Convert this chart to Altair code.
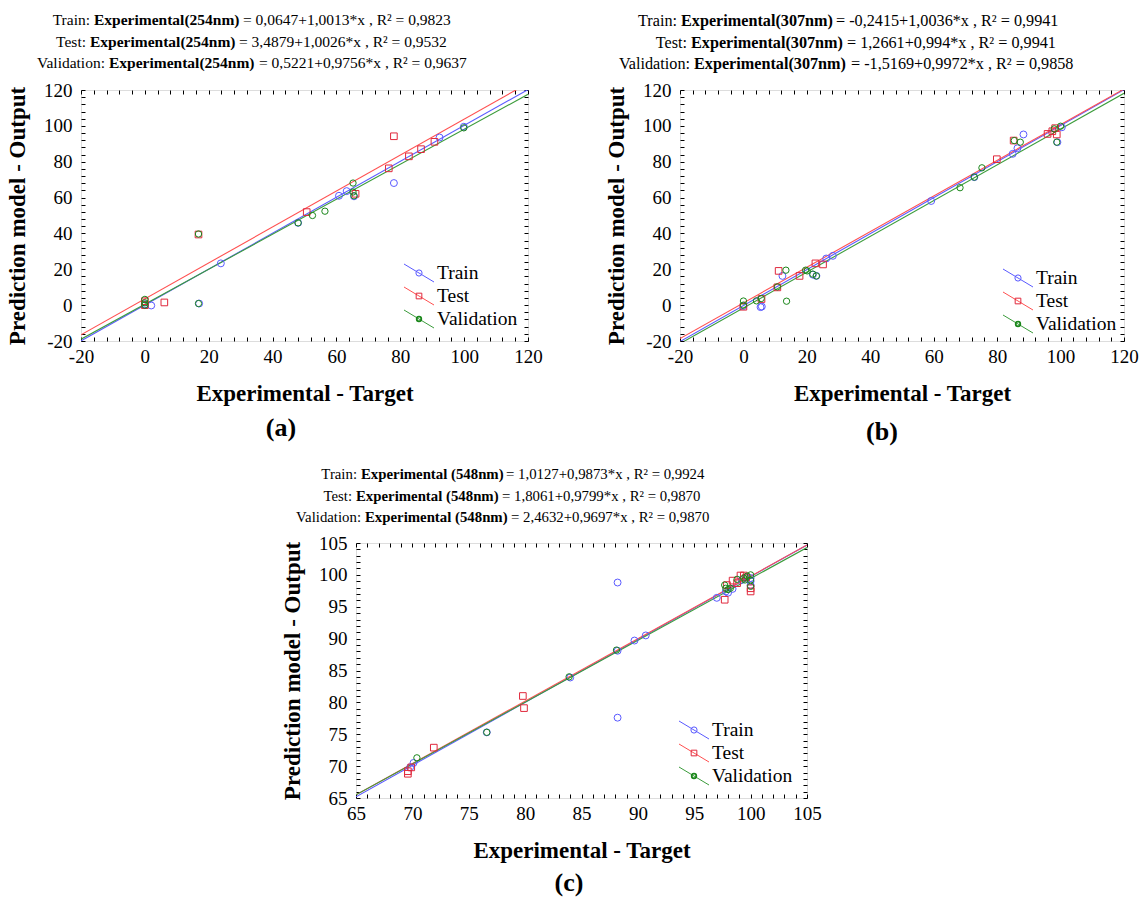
import altair as alt
import pandas as pd

FONT = "Liberation Serif"
SERIES = ["Train", "Test", "Validation"]
LINE_COLORS = ["#5a5aff", "#ff5050", "#3c9c3c"]
MARK_COLORS = ["#5a5aff", "#e0283c", "#1a861a"]
SHAPES = ["circle", "square", "circle"]
SIZES = [48, 40, 26]
STROKES = [1, 1, 1.8]

# ---------------- panel (a) 254 nm ----------------
a_train_x = [0, 0, 2, 17, 23.8, 48, 60.8, 63.2, 65.5, 78.0, 92.3, 99.9]
a_train_y = [0, 0.5, -0.2, 0.9, 23.3, 45.9, 61.0, 63.6, 60.7, 68.1, 93.5, 99.5]
a_test_x = [0, 0, 6.1, 16.8, 50.7, 66.0, 76.4, 78.0, 82.7, 86.5, 90.7]
a_test_y = [0, 2.2, 1.5, 39.4, 51.9, 62.1, 76.3, 94.2, 83.0, 87.0, 91.1]
a_val_x = [0, 0, 0, 16.8, 16.8, 48.0, 52.5, 56.4, 65.2, 65.2, 65.5, 99.9]
a_val_y = [3.2, 1.3, 0, 39.7, 0.9, 45.9, 50.0, 52.4, 68.1, 63.1, 61.0, 98.9]
a_intercepts = [0.0647, 3.4879, 0.5221]
a_slopes = [1.0013, 1.0026, 0.9756]
a_r2 = ["0,9823", "0,9532", "0,9637"]

# ---------------- panel (b) 307 nm ----------------
b_train_x = [0, 5.4, 5.8, 12.3, 21.9, 23.0, 26.1, 28.2, 59.2, 72.8, 84.9, 86.4, 88.3, 99.0, 100.4]
b_train_y = [-0.5, -1.1, -0.8, 16.3, 17.0, 16.3, 26.0, 27.5, 58.1, 71.4, 84.4, 87.5, 95.2, 90.9, 99.2]
b_test_x = [0, 5.7, 11.1, 10.7, 17.7, 22.7, 25.1, 79.9, 85.2, 95.9, 98.3, 98.8, 97.4]
b_test_y = [-0.9, 3.4, 19.1, 9.9, 16.3, 23.3, 22.7, 81.4, 91.8, 95.5, 98.7, 95.2, 97.0]
b_val_x = [0, 0, 4.1, 5.6, 10.7, 13.4, 13.6, 19.6, 20.1, 21.9, 23.0, 68.3, 72.8, 75.2, 85.4, 87.3, 98.8, 100.0, 98.0]
b_val_y = [2.3, 0, 2.4, 3.7, 10.2, 19.5, 2.2, 19.5, 19.1, 17.3, 16.3, 65.5, 71.4, 76.6, 91.8, 90.9, 90.9, 99.8, 98.3]
b_intercepts = [-0.2415, 1.2661, -1.5169]
b_slopes = [1.0036, 0.994, 0.9972]
b_r2 = ["0,9941", "0,9941", "0,9858"]

# ---------------- panel (c) 548 nm ----------------
c_train_x = [88.2, 88.2, 89.7, 90.7, 88.2, 84.0, 76.6, 70.1, 69.8, 97.0, 97.8, 98.4, 100.0, 100.0, 99.2, 99.6, 100.0, 98.0]
c_train_y = [98.8, 77.6, 89.7, 90.5, 88.1, 83.9, 75.3, 70.5, 69.8, 96.4, 97.4, 97.8, 99.5, 98.4, 99.2, 99.6, 99.0, 97.2]
c_test_x = [69.6, 69.6, 69.9, 71.9, 79.8, 79.9, 97.7, 97.9, 98.4, 99.1, 99.4, 100.0, 100.0, 98.8, 99.6]
c_test_y = [68.8, 69.2, 69.8, 72.9, 81.0, 79.1, 96.1, 98.4, 99.1, 99.9, 99.9, 97.4, 97.9, 98.7, 99.6]
c_val_x = [70.4, 76.6, 83.9, 88.1, 97.7, 97.8, 98.0, 98.2, 98.8, 99.4, 99.7, 100.0, 100.0, 100.0, 99.5]
c_val_y = [71.3, 75.3, 84.0, 88.2, 98.4, 97.9, 97.7, 97.9, 99.3, 99.5, 99.8, 100.0, 99.2, 98.2, 99.2]
c_intercepts = [1.0127, 1.8061, 2.4632]
c_slopes = [0.9873, 0.9799, 0.9697]
c_r2 = ["0,9924", "0,9870", "0,9870"]

X_TITLE = "Experimental - Target"
Y_TITLE = "Prediction model - Output"


def one():
    return pd.DataFrame({"k": [0]})


def fmt(v):
    s = f"{v:.4f}".rstrip("0")
    return s.replace(".", ",")


def panel(xs, ys, intercepts, slopes, r2s, name, dom, tick_step, label_step,
          W, H, title_layout, tsize, leg_y0, label, label_pos):
    xmin, xmax = dom
    rows = []
    for s, xv, yv in zip(SERIES, xs, ys):
        for a, b in zip(xv, yv):
            rows.append({"series": s, "x": a, "y": b})
    pts = pd.DataFrame(rows)
    lines = pd.DataFrame([
        {"series": s, "a": a, "b": b, "x": xv}
        for s, a, b in zip(SERIES, intercepts, slopes) for xv in dom
    ])
    ticks = list(range(xmin, xmax + 1, tick_step))
    lexpr = f"datum.value % {label_step} === 0 ? '' + datum.value : ''"
    common = dict(values=ticks, offset=-4, tickSize=4, domain=False, grid=False,
                  tickColor="black", tickWidth=1)
    xs_scale = alt.Scale(domain=[xmin, xmax], nice=False, zero=False)
    ys_scale = alt.Scale(domain=[xmin, xmax], nice=False, zero=False)
    ax_bottom = alt.Axis(orient="bottom", labelExpr=lexpr, labelPadding=6, labelFlush=False,
                         labelOverlap=False, labelFont=FONT, labelFontSize=19, labelColor="black",
                         title=X_TITLE, titleFont=FONT, titleFontSize=23, titleFontWeight="bold",
                         titleColor="black", titlePadding=16, **common)
    ax_left = alt.Axis(orient="left", labelExpr=lexpr, labelPadding=9, labelFlush=False,
                       labelOverlap=False, labelFont=FONT, labelFontSize=19, labelColor="black",
                       title=Y_TITLE, titleFont=FONT, titleFontSize=23, titleFontWeight="bold",
                       titleColor="black", titlePadding=14, **common)
    ax_top = alt.Axis(orient="top", labels=False, title=None, **common)
    ax_right = alt.Axis(orient="right", labels=False, title=None, **common)

    line_layer = alt.Chart(lines).transform_calculate(
        yy="datum.a + datum.b * datum.x"
    ).mark_line(clip=True, strokeWidth=1.1).encode(
        x=alt.X("x:Q", scale=xs_scale, axis=ax_top),
        y=alt.Y("yy:Q", scale=ys_scale, axis=ax_right),
        color=alt.Color("series:N", scale=alt.Scale(domain=SERIES, range=LINE_COLORS), legend=None),
    )
    point_layer = alt.Chart(pts).mark_point(filled=False, opacity=1, clip=True).encode(
        x=alt.X("x:Q", scale=xs_scale, axis=ax_bottom),
        y=alt.Y("y:Q", scale=ys_scale, axis=ax_left),
        stroke=alt.Stroke("series:N", scale=alt.Scale(domain=SERIES, range=MARK_COLORS), legend=None),
        shape=alt.Shape("series:N", scale=alt.Scale(domain=SERIES, range=SHAPES), legend=None),
        size=alt.Size("series:N", scale=alt.Scale(domain=SERIES, range=SIZES), legend=None),
        strokeWidth=alt.StrokeWidth("series:N", scale=alt.Scale(domain=SERIES, range=STROKES), legend=None),
    )
    layers = [line_layer, point_layer]

    # custom legend: diagonal line + marker + label
    for i, s in enumerate(SERIES):
        yc = leg_y0 + i * 23
        layers.append(alt.Chart(one()).mark_rule(color=LINE_COLORS[i], strokeWidth=1).encode(
            x=alt.value(323), x2=alt.value(353), y=alt.value(yc - 9), y2=alt.value(yc + 9)))
        layers.append(alt.Chart(one()).mark_point(
            shape=SHAPES[i], filled=False, color=MARK_COLORS[i], size=SIZES[i] * 0.8,
            strokeWidth=STROKES[i], opacity=1).encode(x=alt.value(338), y=alt.value(yc)))
        layers.append(alt.Chart(one()).mark_text(
            align="left", baseline="middle", font=FONT, fontSize=19.5, color="black").encode(
            x=alt.value(356), y=alt.value(yc), text=alt.value(s)))

    # equation titles (normal + bold + normal segments)
    for i, s in enumerate(SERIES):
        ty, b0, b1 = title_layout[i]
        pre = f"{s}:"
        bold = f"Experimental{name}"
        suf = f"= {fmt(intercepts[i])}+{fmt(slopes[i])}*x , R\u00b2 = {r2s[i]}"
        if intercepts[i] < 0:
            suf = f"= -{fmt(-intercepts[i])}+{fmt(slopes[i])}*x , R\u00b2 = {r2s[i]}"
        layers.append(alt.Chart(one()).mark_text(
            align="right", baseline="middle", font=FONT, fontSize=tsize, color="black").encode(
            x=alt.value(b0 - 4), y=alt.value(ty), text=alt.value(pre)))
        layers.append(alt.Chart(one()).mark_text(
            align="left", baseline="middle", font=FONT, fontSize=tsize, fontWeight="bold",
            color="black").encode(x=alt.value(b0), y=alt.value(ty), text=alt.value(bold)))
        layers.append(alt.Chart(one()).mark_text(
            align="left", baseline="middle", font=FONT, fontSize=tsize, color="black").encode(
            x=alt.value(b1 + 4), y=alt.value(ty), text=alt.value(suf)))

    layers.append(alt.Chart(one()).mark_text(
        align="center", baseline="middle", font=FONT, fontSize=26, fontWeight="bold",
        color="black").encode(x=alt.value(label_pos[0]), y=alt.value(label_pos[1]),
                              text=alt.value(label)))

    return alt.layer(*layers).resolve_axis(x="independent", y="independent").properties(
        width=W, height=H)


pa = panel([a_train_x, a_test_x, a_val_x], [a_train_y, a_test_y, a_val_y],
           a_intercepts, a_slopes, a_r2, "(254nm)", (-20, 120), 4, 20, 447, 251,
           [(-70, 13, 158), (-48, 9, 154), (-27, 28, 174)], 15.5, 183, "(a)", (200, 338))
pb = panel([b_train_x, b_test_x, b_val_x], [b_train_y, b_test_y, b_val_y],
           b_intercepts, b_slopes, b_r2, "(307nm)", (-20, 120), 4, 20, 444, 251,
           [(-69, 1, 152), (-47, 11, 163), (-26, 14, 167)], 16.2, 188, "(b)", (202, 342))
pc = panel([c_train_x, c_test_x, c_val_x], [c_train_y, c_test_y, c_val_y],
           c_intercepts, c_slopes, c_r2, " (548nm)", (65, 105), 1, 5, 451, 255,
           [(-68, 5, 146), (-46, 0, 142), (-25, 9, 151)], 14.8, 187, "(c)", (213, 340))

spacer = alt.Chart(one()).mark_point(opacity=0).encode(
    x=alt.X("k:Q", axis=None), y=alt.Y("k:Q", axis=None)
).properties(width=255, height=20, view=alt.ViewBackground(stroke="transparent"))

top = alt.hconcat(pa, pb, spacing=152, bounds="flush")
bottom = alt.hconcat(spacer, pc, spacing=20, bounds="flush")
chart = alt.vconcat(top, bottom, spacing=453, bounds="flush").properties(
    padding={"left": 5, "top": 12, "right": 0, "bottom": 0}
).configure_view(stroke="black", strokeWidth=1).configure(font=FONT, background="white")

chart.save("out.html", embed_options={"renderer": "svg", "actions": False})
